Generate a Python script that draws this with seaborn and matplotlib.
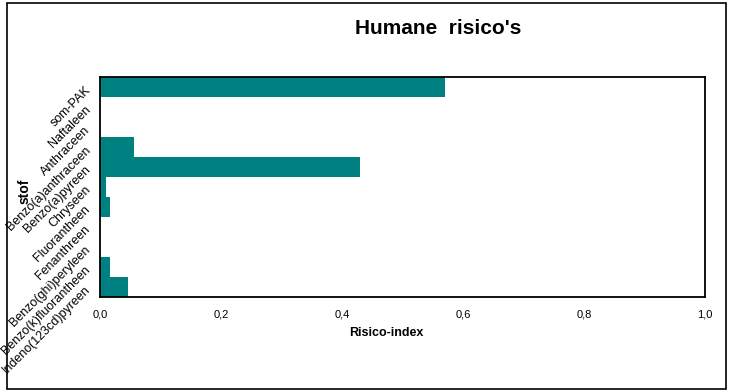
import matplotlib
matplotlib.use("Agg")
import matplotlib.pyplot as plt
from matplotlib.patches import Rectangle
from matplotlib.ticker import FuncFormatter
import pandas as pd
import seaborn as sns

# data
stoffen = ["som-PAK", "Naftaleen", "Anthraceen", "Benzo(a)anthraceen", "Benzo(a)pyreen",
           "Chryseen", "Fluorantheen", "Fenanthreen", "Benzo(ghi)peryleen",
           "Benzo(k)fluorantheen", "Indeno(123cd)pyreen"]
risico_index = [0.570, 0.0, 0.0, 0.056, 0.430, 0.010, 0.0165, 0.0, 0.0, 0.0165, 0.046]
x_ticks = [0.0, 0.2, 0.4, 0.6, 0.8, 1.0]

df = pd.DataFrame({"stof": stoffen, "Risico-index": risico_index})

sns.set_style("white")
plt.rcParams["font.family"] = ["Liberation Sans", "DejaVu Sans"]
plt.rcParams["text.color"] = "black"
plt.rcParams["xtick.color"] = "black"
plt.rcParams["ytick.color"] = "black"

fig = plt.figure(figsize=(7.29, 3.92), dpi=100)
ax = fig.add_axes([100 / 729, 1 - 297 / 392, 605 / 729, 220 / 392])

sns.barplot(data=df, x="Risico-index", y="stof", orient="h", color="#008080",
            saturation=1, width=1.0, linewidth=0, ax=ax)

ax.set_xlim(0, 1.0)
ax.set_xticks(x_ticks)
ax.xaxis.set_major_formatter(FuncFormatter(lambda v, p: f"{v:.1f}".replace(".", ",")))
ax.tick_params(axis="x", length=0, pad=9, labelsize=8, labelcolor="black")
ax.tick_params(axis="y", length=0, pad=9, labelsize=9, labelcolor="black")
for lab in ax.get_yticklabels():
    lab.set_rotation(45)
    lab.set_ha("right")
    lab.set_rotation_mode("anchor")

ax.set_xlabel("")
ax.set_ylabel("")
for s in ax.spines.values():
    s.set_visible(True)
    s.set_color("black")
    s.set_linewidth(1.3)

fig.text(438 / 729, 1 - 28 / 392, "Humane  risico's", ha="center", va="center",
         fontsize=15, fontweight="bold", color="black")
fig.text(386 / 729, 1 - 333 / 392, "Risico-index", ha="center", va="center",
         fontsize=9, fontweight="bold", color="black")
fig.text(25 / 729, 1 - 191 / 392, "stof", ha="center", va="center",
         fontsize=10, fontweight="bold", rotation=90, color="black")

# outer border of the chart
fig.patches.append(Rectangle((7 / 729, 3 / 392), 719 / 729, 386 / 392,
                             transform=fig.transFigure, fill=False,
                             edgecolor="black", linewidth=1.2))

fig.savefig("out.png", dpi=100)
